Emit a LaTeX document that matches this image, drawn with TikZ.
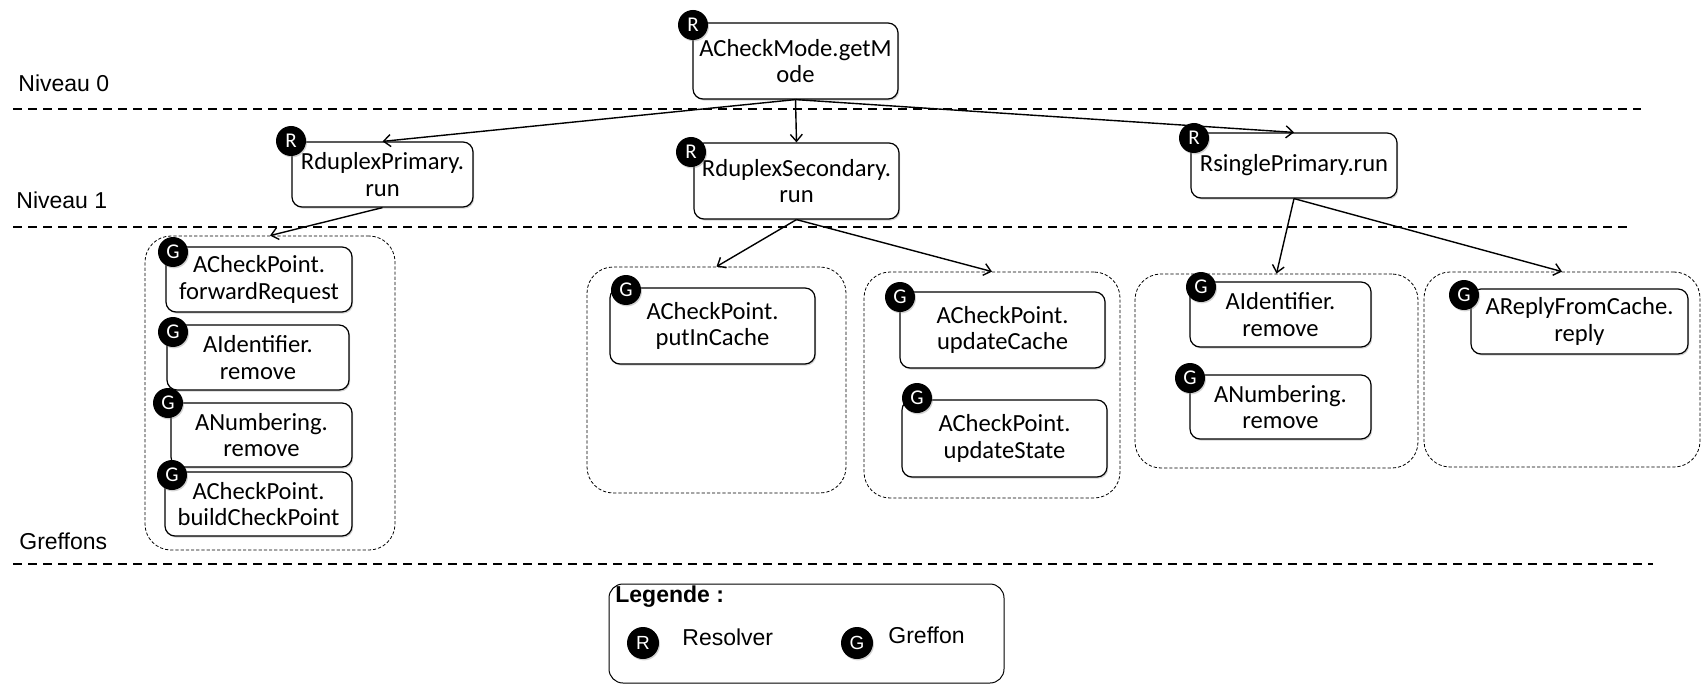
\documentclass[tikz,border=0pt]{standalone}
\usepackage{fontspec}
\setmainfont{Carlito}
\newfontfamily\arialfont{Liberation Sans}
\usetikzlibrary{arrows.meta,shadows}
\tikzset{
  box/.style={draw, line width=0.6pt, rounded corners=5pt, fill=white, align=center,
    inner sep=0pt, font=\fontsize{12.3}{13.3}\selectfont,
    drop shadow={shadow xshift=0.6pt, shadow yshift=-0.8pt, opacity=0.35}},
  badge/.style={circle, fill=black, text=white, inner sep=0pt, minimum size=15pt,
    font=\fontsize{10.5}{10.5}\selectfont,
    drop shadow={shadow xshift=0.5pt, shadow yshift=-0.7pt, opacity=0.35}},
  cont/.style={draw, line width=0.4pt, dash pattern=on 1.6pt off 1pt, rounded corners=13pt},
  levelline/.style={line width=0.9pt, dash pattern=on 4.5pt off 3pt},
  levellabel/.style={anchor=base west, inner sep=0pt, font=\arialfont\fontsize{11.5}{12}\selectfont},
  arr/.style={line width=0.7pt, -{Straight Barb[length=3.5pt,width=6pt]}},
}
\begin{document}
\begin{tikzpicture}[x=0.5pt,y=-0.5pt]
\path[use as bounding box, fill=white] (0,0) rectangle (1701,684);

% level lines and labels
\coordinate (l0a) at (13,109); \coordinate (l0b) at (1641,109);
\coordinate (l1a) at (13,227); \coordinate (l1b) at (1632,227);
\coordinate (l2a) at (13,564); \coordinate (l2b) at (1653,564);
\draw[levelline] (l0a) -- (l0b);
\draw[levelline] (l1a) -- (l1b);
\draw[levelline] (l2a) -- (l2b);
\node[levellabel] (lab0) at (18,92) {Niveau 0};
\node[levellabel] (lab1) at (16,209) {Niveau 1};
\node[levellabel] (lab2) at (19,549) {Greffons};

% containers
\node[cont, minimum width=125pt, minimum height=157pt] (C1) at (270,393) {};
\node[cont, minimum width=129.5pt, minimum height=113pt] (C2) at (716.5,380) {};
\node[cont, minimum width=128pt, minimum height=113pt] (C3) at (992,385) {};
\node[cont, minimum width=141.5pt, minimum height=97pt] (C4) at (1276.5,371) {};
\node[cont, minimum width=138pt, minimum height=97.5pt] (C5) at (1562,369.5) {};

% resolver boxes
\node[box, minimum width=102.5pt, minimum height=38pt] (top) at (795.5,61) {ACheckMode.getM\\ode};
\node[box, minimum width=90.5pt, minimum height=32.5pt] (rdp) at (382.5,174.5) {RduplexPrimary.\\run};
\node[box, minimum width=102.5pt, minimum height=38pt] (rds) at (796.5,181) {RduplexSecondary.\\run};
\node[box, minimum width=103pt, minimum height=32.5pt] (rsp) at (1294,165.5) {RsinglePrimary.run};

% greffon boxes
\node[box, minimum width=93pt, minimum height=32.5pt] (fwd) at (259,279.5) {ACheckPoint.\\forwardRequest};
\node[box, minimum width=91pt, minimum height=32.5pt] (aidA) at (258,357.5) {AIdentifier.\\remove};
\node[box, minimum width=90.5pt, minimum height=32pt] (anumA) at (261.5,435) {ANumbering.\\remove};
\node[box, minimum width=93.5pt, minimum height=32pt] (build) at (258.5,504) {ACheckPoint.\\buildCheckPoint};
\node[box, minimum width=102.5pt, minimum height=38pt] (put) at (712.5,326) {ACheckPoint.\\putInCache};
\node[box, minimum width=102.5pt, minimum height=38pt] (updc) at (1002.5,330) {ACheckPoint.\\updateCache};
\node[box, minimum width=102.5pt, minimum height=38.5pt] (upds) at (1004.5,438.5) {ACheckPoint.\\updateState};
\node[box, minimum width=90.5pt, minimum height=32.5pt] (aidB) at (1280.5,314.5) {AIdentifier.\\remove};
\node[box, minimum width=90.5pt, minimum height=32pt] (anumB) at (1280.5,407) {ANumbering.\\remove};
\node[box, minimum width=108.5pt, minimum height=32.5pt] (reply) at (1579.5,321.5) {AReplyFromCache.\\reply};

% badges
\node[badge] (btop) at (693,25) {R};
\node[badge] (brdp) at (291,141) {R};
\node[badge] (brds) at (691,152) {R};
\node[badge] (brsp) at (1194,138) {R};
\node[badge] (bfwd) at (173,252) {G};
\node[badge] (baidA) at (173,332) {G};
\node[badge] (banumA) at (168,403) {G};
\node[badge] (bbuild) at (172,475) {G};
\node[badge] (bput) at (626,290) {G};
\node[badge] (bupdc) at (900,297) {G};
\node[badge] (bupds) at (917,398) {G};
\node[badge] (baidB) at (1201,287) {G};
\node[badge] (banumB) at (1190,378) {G};
\node[badge] (breply) at (1464,295) {G};

% connectors
\draw[arr] (top.south) -- (rdp.north);
\draw[arr] (top.south) -- (rds.north);
\draw[arr] (top.south) -- (rsp.north);
\draw[arr] (rdp.south) -- (C1.north);
\draw[arr] (rds.south) -- (C2.north);
\draw[arr] (rds.south) -- (C3.north);
\draw[arr] (rsp.south) -- (C4.north);
\draw[arr] (rsp.south) -- (C5.north);

% legend
\node[draw, line width=0.5pt, rounded corners=7pt, minimum width=197.5pt, minimum height=49.5pt] (leg) at (806.5,633.5) {};
\node[anchor=base west, inner sep=0pt, font=\arialfont\bfseries\fontsize{11.5}{12}\selectfont] (legt) at (615,602) {Legende :};
\node[badge, minimum size=16pt, font=\arialfont\fontsize{9.5}{9.5}\selectfont] (legR) at (643,643) {R};
\node[anchor=base west, inner sep=0pt, font=\arialfont\fontsize{11.5}{12}\selectfont] (legRt) at (682,645) {Resolver};
\node[badge, minimum size=16pt, font=\arialfont\fontsize{9.5}{9.5}\selectfont] (legG) at (857,643) {G};
\node[anchor=base west, inner sep=0pt, font=\arialfont\fontsize{11.5}{12}\selectfont] (legGt) at (888,643) {Greffon};
\end{tikzpicture}
\end{document}
